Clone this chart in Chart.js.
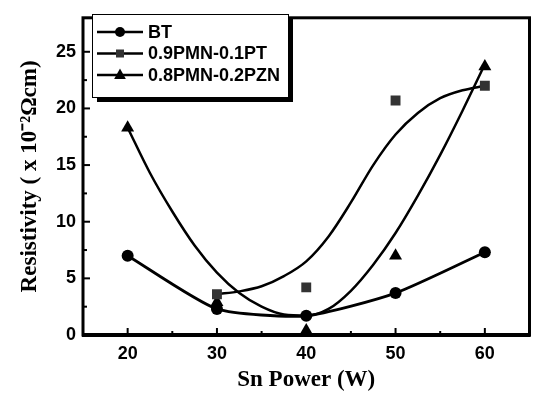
<!DOCTYPE html>
<html>
<head>
<meta charset="utf-8">
<script src="https://cdn.jsdelivr.net/npm/chart.js@4.4.0/dist/chart.umd.min.js"></script>
<style>
  html, body { margin: 0; padding: 0; background: #fff; }
  #wrap { width: 537px; height: 394px; }
</style>
</head>
<body>
<div id="wrap"><canvas id="myChart" width="537" height="394"></canvas></div>
<script>
// measured points
const powers = [20, 30, 40, 50, 60];
const btValues = [7.0, 2.3, 1.7, 3.7, 7.3];
const ptPowers = [30, 40, 50, 60];
const ptValues = [3.6, 4.2, 20.7, 22.0];
const pznValues = [18.3, 2.9, 0.4, 7.0, 23.7];

// fitted curves, every 2.5 W
const ptFitPowers = [30, 32.5, 35, 37.5, 40, 42.5, 45, 47.5, 50, 52.5, 55, 57.5, 60];
const ptFitValues = [3.6, 3.85, 4.3, 5.2, 6.5, 8.7, 11.7, 15.0, 17.7, 19.6, 20.9, 21.6, 22.0];
const pznFitPowers = [20, 22.5, 25, 27.5, 30, 32.5, 35, 37.5, 40, 42.5, 45, 47.5, 50, 52.5, 55, 57.5, 60];
const pznFitValues = [18.3, 14.3, 10.9, 7.9, 5.5, 3.7, 2.5, 1.8, 1.7, 2.3, 3.9, 6.2, 9.0, 12.3, 15.9, 19.8, 23.9];

const xTicks = [20, 30, 40, 50, 60];
const xMinorTicks = [25, 35, 45, 55];
const yTicks = [0, 5, 10, 15, 20, 25];
const yMinorTicks = [2.5, 7.5, 12.5, 17.5, 22.5];
const seriesNames = ['BT', '0.9PMN-0.1PT', '0.8PMN-0.2PZN'];

const pts = (xs, ys) => xs.map((x, i) => ({ x: x, y: ys[i] }));

function marker(ctx, style, x, y, r) {
  ctx.beginPath();
  if (style === 'circle') {
    ctx.arc(x, y, r, 0, Math.PI * 2);
  } else if (style === 'rect') {
    ctx.rect(x - r, y - r, 2 * r, 2 * r);
  } else {
    ctx.moveTo(x, y - r);
    ctx.lineTo(x + r * 0.9, y + r * 0.6);
    ctx.lineTo(x - r * 0.9, y + r * 0.6);
    ctx.closePath();
  }
  ctx.fill();
}

const frame = {
  id: 'frame',
  afterDatasetsDraw(chart) {
    const ctx = chart.ctx;
    const a = chart.chartArea;
    const xs = chart.scales.x, ys = chart.scales.y;
    ctx.save();
    ctx.strokeStyle = '#000';
    ctx.lineCap = 'butt';
    // inward ticks
    ctx.lineWidth = 2;
    xTicks.forEach(v => { const p = xs.getPixelForValue(v); ctx.beginPath(); ctx.moveTo(p, a.bottom); ctx.lineTo(p, a.bottom - 7); ctx.stroke(); });
    xMinorTicks.forEach(v => { const p = xs.getPixelForValue(v); ctx.beginPath(); ctx.moveTo(p, a.bottom); ctx.lineTo(p, a.bottom - 4); ctx.stroke(); });
    yTicks.forEach(v => { const p = ys.getPixelForValue(v); ctx.beginPath(); ctx.moveTo(a.left, p); ctx.lineTo(a.left + 7, p); ctx.stroke(); });
    yMinorTicks.forEach(v => { const p = ys.getPixelForValue(v); ctx.beginPath(); ctx.moveTo(a.left, p); ctx.lineTo(a.left + 4, p); ctx.stroke(); });
    // box
    ctx.lineWidth = 3;
    ctx.strokeRect(a.left, a.top, a.right - a.left, a.bottom - a.top);
    ctx.lineWidth = 4;
    ctx.beginPath(); ctx.moveTo(a.left - 1, a.bottom); ctx.lineTo(a.right + 1, a.bottom); ctx.stroke();

    // legend with shadow
    const bx = 92, by = 14, bw = 196, bh = 83;
    ctx.fillStyle = '#000';
    ctx.fillRect(bx + 5, by + 5, bw, bh);
    ctx.fillStyle = '#fff';
    ctx.fillRect(bx, by, bw, bh);
    ctx.lineWidth = 1;
    ctx.strokeRect(bx + 0.5, by + 0.5, bw, bh);
    const styles = ['circle', 'rect', 'triangle'];
    const sizes = [5, 4, 6.5];
    const fills = ['#000', '#333', '#000'];
    ctx.font = 'bold 18px "Liberation Sans", Arial, sans-serif';
    ctx.textBaseline = 'middle';
    seriesNames.forEach((name, i) => {
      const ry = 32 + i * 21.5;
      ctx.lineWidth = 2.5;
      ctx.beginPath(); ctx.moveTo(97, ry); ctx.lineTo(143, ry); ctx.stroke();
      ctx.fillStyle = fills[i];
      marker(ctx, styles[i], 120, ry, sizes[i]);
      ctx.fillStyle = '#000';
      ctx.fillText(name, 148, ry + 1, 134);
    });
    ctx.restore();
  }
};

const ctx = document.getElementById('myChart').getContext('2d');
const chart = new Chart(ctx, {
  type: 'line',
  data: {
    datasets: [
      {
        label: seriesNames[0],
        data: pts(powers, btValues),
        borderColor: '#000', backgroundColor: '#000',
        borderWidth: 2.8, tension: 0.2,
        pointStyle: 'circle', pointRadius: 6, pointBorderWidth: 0
      },
      {
        label: seriesNames[1],
        data: pts(ptPowers, ptValues),
        showLine: false,
        backgroundColor: '#333', borderColor: '#333',
        pointStyle: 'rect', pointRadius: 7, pointBorderWidth: 0
      },
      {
        label: seriesNames[2],
        data: pts(powers, pznValues),
        showLine: false,
        backgroundColor: '#000', borderColor: '#000',
        pointStyle: 'triangle', pointRadius: 7.5, pointBorderWidth: 0
      },
      {
        label: 'PT fit',
        data: pts(ptFitPowers, ptFitValues),
        borderColor: '#000', borderWidth: 2.5,
        cubicInterpolationMode: 'monotone',
        pointRadius: 0
      },
      {
        label: 'PZN fit',
        data: pts(pznFitPowers, pznFitValues),
        borderColor: '#000', borderWidth: 2.5,
        cubicInterpolationMode: 'monotone',
        pointRadius: 0
      }
    ]
  },
  options: {
    responsive: false,
    animation: false,
    layout: { padding: { top: 9, right: 2, left: 0, bottom: 0 } },
    plugins: { legend: { display: false }, tooltip: { enabled: false } },
    scales: {
      x: {
        type: 'linear', min: 15, max: 65,
        afterBuildTicks: s => { s.ticks = xTicks.map(v => ({ value: v })); },
        afterFit: s => { s.height = 59; },
        grid: { display: false, drawTicks: false },
        border: { display: false },
        ticks: { color: '#000', padding: 8, font: { family: '"Liberation Sans", Arial, sans-serif', size: 18, weight: 'bold' } },
        title: {
          display: true, text: 'Sn Power (W)', color: '#000',
          padding: { top: 0, bottom: 0 },
          font: { family: '"Liberation Serif", "Times New Roman", serif', size: 23, weight: 'bold' }
        }
      },
      y: {
        type: 'linear', min: 0, max: 28,
        afterBuildTicks: s => { s.ticks = yTicks.map(v => ({ value: v })); },
        afterFit: s => { s.width = 83; },
        grid: { display: false, drawTicks: false },
        border: { display: false },
        ticks: { color: '#000', padding: 7, font: { family: '"Liberation Sans", Arial, sans-serif', size: 18, weight: 'bold' } },
        title: {
          display: true, text: 'Resistivity ( x 10\u207B\u00B2\u03A9cm)', color: '#000',
          padding: { top: 16, bottom: 0 },
          font: { family: '"Liberation Serif", "Times New Roman", serif', size: 23, weight: 'bold' }
        }
      }
    }
  },
  plugins: [frame]
});
</script>
</body>
</html>
